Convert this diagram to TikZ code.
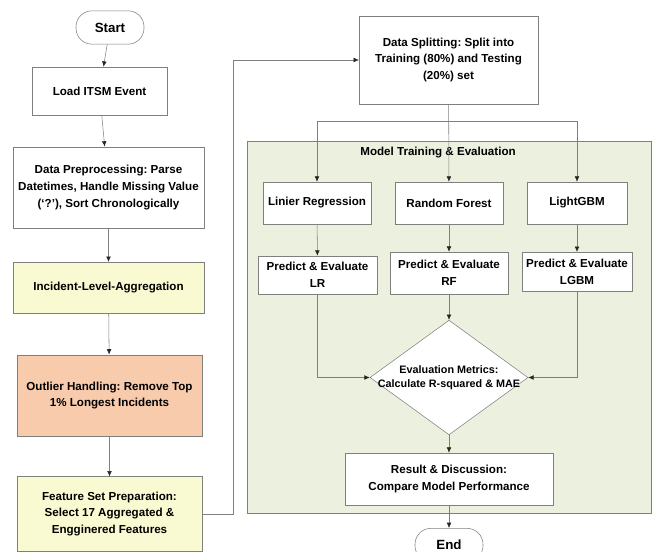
\documentclass[tikz,border=0pt]{standalone}
\usepackage{fontspec}
\setmainfont{Liberation Sans}
\usetikzlibrary{arrows.meta,shapes.geometric}
\definecolor{linegray}{HTML}{7F7F7F}
\definecolor{aggyellow}{HTML}{FAFAD2}
\definecolor{outpeach}{HTML}{F8CBAD}
\definecolor{panelgreen}{HTML}{EBF1DE}
\frenchspacing
\begin{document}
\begin{tikzpicture}[x=0.75pt,y=-0.75pt,
    every node/.style={font=\bfseries\fontsize{8.7}{12.7}\selectfont},
    box/.style={draw=linegray,fill=white,align=center,inner sep=1pt},
    term/.style={box,rounded corners=12pt,minimum width=51pt,minimum height=25pt,font=\bfseries\fontsize{10}{12}\selectfont},
    arr/.style={draw=linegray,-{Latex[length=4pt,width=3.5pt,color=black!85]}}]
  \useasboundingbox (0,0) rectangle (656,552);
  \node [draw=linegray,fill=panelgreen,minimum width=303pt,minimum height=279pt] (panel) at (449,327) {};
  \node (paneltitle) at (438,153) {Model Training \& Evaluation};

  \node [term] (start) at (110,27.5) {Start};
  \node [box,minimum width=101pt,minimum height=36pt] (load) at (99.5,91) {Load ITSM Event};
  \node [box,minimum width=143pt,minimum height=61pt] (prep) at (108.5,187.5) {Data Preprocessing: Parse\\Datetimes, Handle Missing Value\\(`?'), Sort Chronologically};
  \node [box,fill=aggyellow,minimum width=143pt,minimum height=38pt] (agg) at (108.5,287.5) {Incident-Level-Aggregation};
  \node [box,fill=outpeach,minimum width=139pt,minimum height=61pt] (outlier) at (109.5,395.5) {Outlier Handling: Remove Top\\1\% Longest Incidents};
  \node [box,fill=aggyellow,minimum width=139pt,minimum height=56pt] (feat) at (109.5,514) {Feature Set Preparation:\\Select 17 Aggregated \&\\Engginered Features};

  \node [box,minimum width=134pt,minimum height=66pt] (split) at (448.5,60) {Data Splitting: Split into\\Training (80\%) and Testing\\(20\%) set};
  \coordinate (fork) at (448.5,121);
  \coordinate (route) at (233,0);

  \node [box,minimum width=81pt,minimum height=31.5pt] (lr) at (317,203) {Linier Regression};
  \node [box,minimum width=81pt,minimum height=31.5pt] (rf) at (449,203) {Random Forest};
  \node [box,minimum width=75pt,minimum height=31.5pt] (lgbm) at (577,203) {LightGBM};
  \node [box,minimum width=89pt,minimum height=28.5pt] (evlr) at (317.5,275) {Predict \& Evaluate\\LR};
  \node [box,minimum width=88.5pt,minimum height=31.5pt] (evrf) at (449,273) {Predict \& Evaluate\\RF};
  \node [box,minimum width=82.5pt,minimum height=29pt] (evlgbm) at (577,271.5) {Predict \& Evaluate\\LGBM};
  \node [box,diamond,aspect=1.38,inner sep=-4pt,minimum width=118.5pt,minimum height=86pt,font=\bfseries\fontsize{8.1}{10.5}\selectfont] (metric) at (449,377.5) {Evaluation Metrics:\\Calculate R-squared \& MAE};
  \node [box,minimum width=156pt,minimum height=39pt] (result) at (449,479) {Result \& Discussion:\\Compare Model Performance};
  \node [term] (stop) at (449,545) {End};

  \draw [arr] (start) -- (load);
  \draw [arr] (load) -- (prep);
  \draw [arr] (prep) -- (agg);
  \draw [arr] (agg) -- (outlier);
  \draw [arr] (outlier) -- (feat);
  \draw [arr] (feat.east) -- (feat.east -| route) |- (split.west);
  \draw [arr] (split) -- (rf);
  \draw [arr] (fork) -| (lr);
  \draw [arr] (fork) -| (lgbm);
  \draw [arr] (lr) -- (evlr);
  \draw [arr] (rf) -- (evrf);
  \draw [arr] (lgbm) -- (evlgbm);
  \draw [arr] (evlr) |- (metric.west);
  \draw [arr] (evrf) -- (metric);
  \draw [arr] (evlgbm) |- (metric.east);
  \draw [arr] (metric) -- (result);
  \draw [arr] (result) -- (stop);
\end{tikzpicture}
\end{document}
